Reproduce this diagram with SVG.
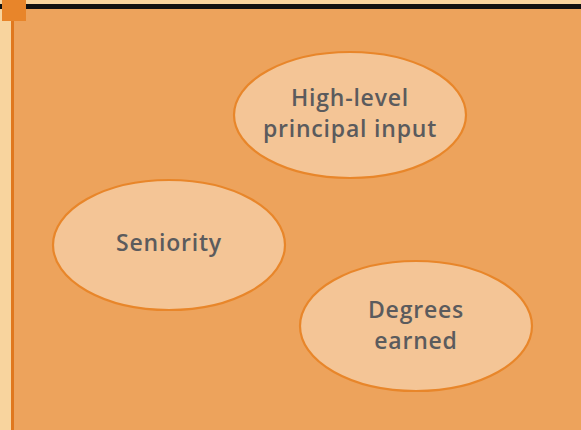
<svg xmlns="http://www.w3.org/2000/svg" width="581" height="430" viewBox="0 0 581 430">
<style>
.node ellipse{fill:#F4C596;stroke:#E8862A;stroke-width:2.2}
.node text{font-family:"Open Sans","DejaVu Sans",sans-serif;font-size:23px;font-weight:600;letter-spacing:0.8px;fill:#5B5B5D;text-anchor:middle}
</style>
<rect x="0" y="0" width="581" height="430" fill="#F8D49E"/>
<rect x="14" y="9" width="567" height="421" fill="#EDA35C"/>
<rect x="0" y="4" width="581" height="5" fill="#111"/>
<rect x="11" y="9" width="3" height="421" fill="#E0781E"/>
<rect x="2" y="0" width="24" height="21" fill="#E8852A"/>
<g id="connectors"></g>
<g id="node-principal" class="node">
<ellipse cx="350" cy="115" rx="116" ry="63"/>
<text x="350" y="106">High-level</text>
<text x="350" y="137">principal input</text>
</g>
<g id="node-seniority" class="node">
<ellipse cx="169" cy="245" rx="116" ry="65"/>
<text x="169" y="251">Seniority</text>
</g>
<g id="node-degrees" class="node">
<ellipse cx="416" cy="326" rx="116" ry="65"/>
<text x="416" y="318">Degrees</text>
<text x="416" y="349">earned</text>
</g>
</svg>
